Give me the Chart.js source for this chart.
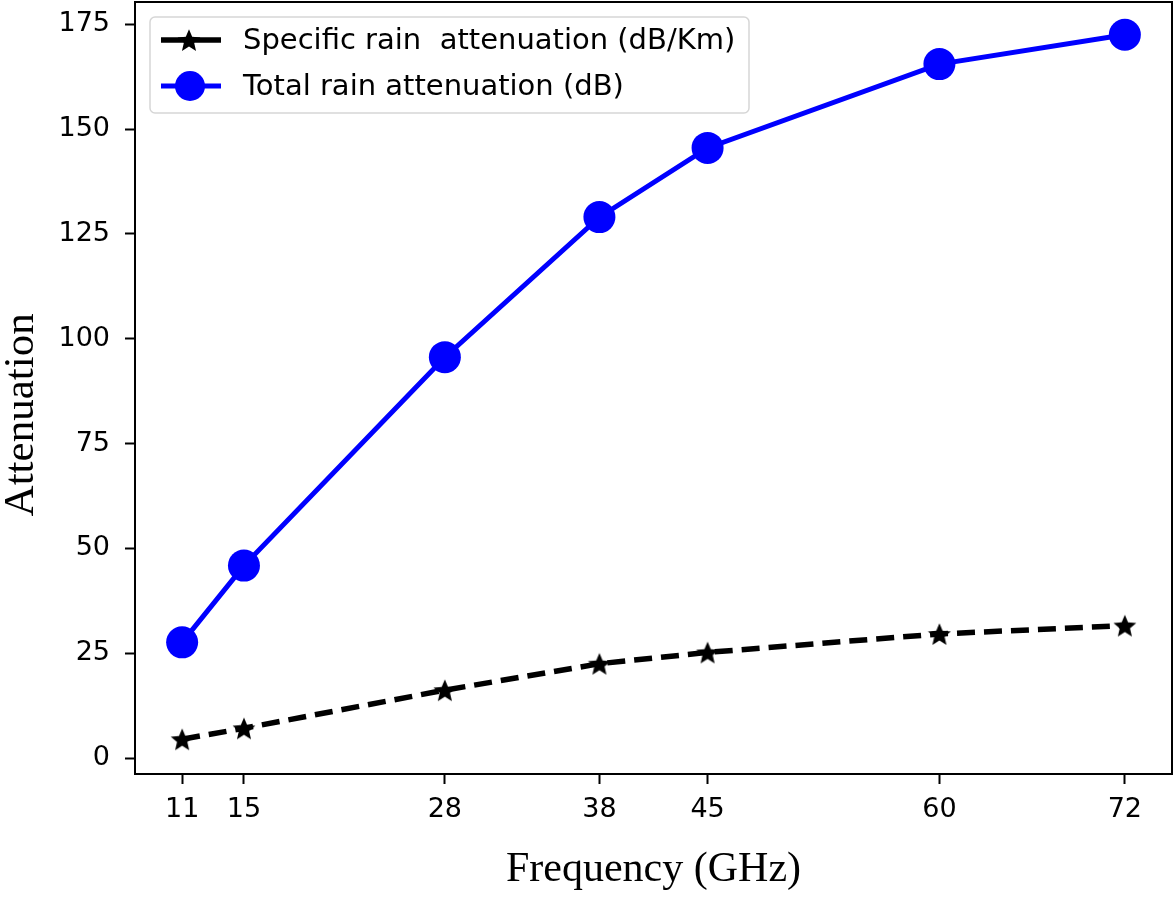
<!DOCTYPE html>
<html>
<head>
<meta charset="utf-8">
<script src="https://cdn.jsdelivr.net/npm/chart.js@4/dist/chart.umd.min.js"></script>
<style>
  html, body { margin: 0; padding: 0; background: #fff; }
  #wrap { width: 1176px; height: 898px; }
</style>
</head>
<body>
<div id="wrap"><canvas id="rainChart" width="1176" height="898"></canvas></div>
<script>
var frequencies = [11, 15, 28, 38, 45, 60, 72];
var specificAtt = [4.5, 7.1, 16.2, 22.5, 25.2, 29.6, 31.6];
var totalAtt = [27.6, 45.9, 95.6, 129.0, 145.5, 165.5, 172.5];
var yTicks = [0, 25, 50, 75, 100, 125, 150, 175];
var seriesLabels = ['Specific rain  attenuation (dB/Km)', 'Total rain attenuation (dB)'];

// filled five-point star, like matplotlib's '*' marker
function makeStar(size) {
    var c = document.createElement('canvas');
    c.width = size; c.height = size;
    var g = c.getContext('2d');
    var cx = size / 2, cy = size / 2 + size * 0.05;
    var ro = size / 2, ri = ro * 0.45;
    g.beginPath();
    for (var i = 0; i < 10; i++) {
        var r = i % 2 === 0 ? ro : ri;
        var a = -Math.PI / 2 + i * Math.PI / 5;
        g.lineTo(cx + r * Math.cos(a), cy + r * Math.sin(a));
    }
    g.closePath();
    g.fillStyle = '#000';
    g.fill();
    return c;
}
var starImg = makeStar(24);

function points(ys) {
    return frequencies.map(function (f, i) { return { x: f, y: ys[i] }; });
}

// legend drawn inside the plot, upper left
var boxLegend = {
    id: 'boxLegend',
    afterDraw: function (chart) {
        var ctx = chart.ctx;
        var x0 = 150, y0 = 17, w = 599, h = 96;
        ctx.save();
        ctx.fillStyle = 'rgba(255,255,255,0.8)';
        ctx.strokeStyle = '#d6d6d6';
        ctx.lineWidth = 1.5;
        ctx.beginPath();
        ctx.roundRect(x0, y0, w, h, 5);
        ctx.fill();
        ctx.stroke();

        ctx.font = '29px "DejaVu Sans"';
        ctx.fillStyle = '#000';
        ctx.textBaseline = 'middle';
        var rows = [40, 86];
        chart.data.datasets.forEach(function (ds, i) {
            var y = rows[i];
            ctx.strokeStyle = ds.borderColor;
            ctx.lineWidth = ds.borderWidth;
            ctx.setLineDash([]);
            ctx.beginPath();
            ctx.moveTo(161, y);
            ctx.lineTo(221, y);
            ctx.stroke();
            if (i === 0) {
                ctx.drawImage(starImg, 189 - starImg.width / 2, y - starImg.height / 2);
            } else {
                ctx.fillStyle = ds.pointBackgroundColor;
                ctx.beginPath();
                ctx.arc(190, y, 15, 0, Math.PI * 2);
                ctx.fill();
            }
            ctx.fillStyle = '#000';
            ctx.fillText(ds.label, 243, y + 1);
        });
        ctx.restore();
    }
};

var ctx = document.getElementById('rainChart').getContext('2d');
var rainChart = new Chart(ctx, {
    type: 'line',
    data: {
        datasets: [{
            label: seriesLabels[0],
            data: points(specificAtt),
            borderColor: '#000000',
            backgroundColor: '#000000',
            borderWidth: 5.5,
            borderDash: [18, 9],
            pointStyle: starImg,
            pointRadius: 12,
            pointBackgroundColor: '#000000',
            tension: 0
        }, {
            label: seriesLabels[1],
            data: points(totalAtt),
            borderColor: '#0000ff',
            backgroundColor: '#0000ff',
            borderWidth: 5,
            pointStyle: 'circle',
            pointRadius: 16,
            pointBorderWidth: 0,
            pointBackgroundColor: '#0000ff',
            tension: 0
        }]
    },
    options: {
        responsive: false,
        animation: false,
        layout: { autoPadding: false, padding: { top: 2, right: 4, left: 0, bottom: 0 } },
        plugins: {
            legend: { display: false },
            tooltip: { enabled: false }
        },
        scales: {
            x: {
                type: 'linear',
                min: 7.95,
                max: 75.05,
                afterBuildTicks: function (s) {
                    s.ticks = frequencies.map(function (v) { return { value: v }; });
                },
                afterFit: function (s) {
                    s.height = 124;
                    s.paddingLeft = 0; s.paddingRight = 0;
                },
                grid: { drawOnChartArea: false, tickLength: 10, tickWidth: 2, tickColor: '#000' },
                border: { color: '#000', width: 2 },
                ticks: {
                    color: '#000',
                    padding: 10,
                    maxRotation: 0,
                    autoSkip: false,
                    font: { family: 'DejaVu Sans', size: 27 }
                },
                title: {
                    display: true,
                    text: 'Frequency (GHz)',
                    color: '#000',
                    font: { family: 'Liberation Serif', size: 42, lineHeight: 1 },
                    padding: { top: 0, bottom: 7 }
                }
            },
            y: {
                type: 'linear',
                min: -3.8,
                max: 180.3,
                afterBuildTicks: function (s) {
                    s.ticks = yTicks.map(function (v) { return { value: v }; });
                },
                afterFit: function (s) {
                    s.width = 135;
                    s.paddingTop = 0; s.paddingBottom = 0;
                },
                grid: { drawOnChartArea: false, tickLength: 10, tickWidth: 2, tickColor: '#000' },
                border: { color: '#000', width: 2 },
                ticks: {
                    color: '#000',
                    padding: 15,
                    font: { family: 'DejaVu Sans', size: 27 }
                },
                title: {
                    display: true,
                    // trailing spaces nudge the rotated label down, as in the original
                    text: 'Attenuation     ',
                    color: '#000',
                    font: { family: 'Liberation Serif', size: 43, lineHeight: 1 },
                    padding: 0
                }
            }
        }
    },
    plugins: [boxLegend, {
        id: 'frame',
        afterDraw: function (chart) {
            var a = chart.chartArea, c = chart.ctx;
            c.save();
            c.strokeStyle = '#000';
            c.lineWidth = 2;
            c.strokeRect(a.left, a.top, a.right - a.left, a.bottom - a.top);
            c.restore();
        }
    }]
});
</script>
</body>
</html>
